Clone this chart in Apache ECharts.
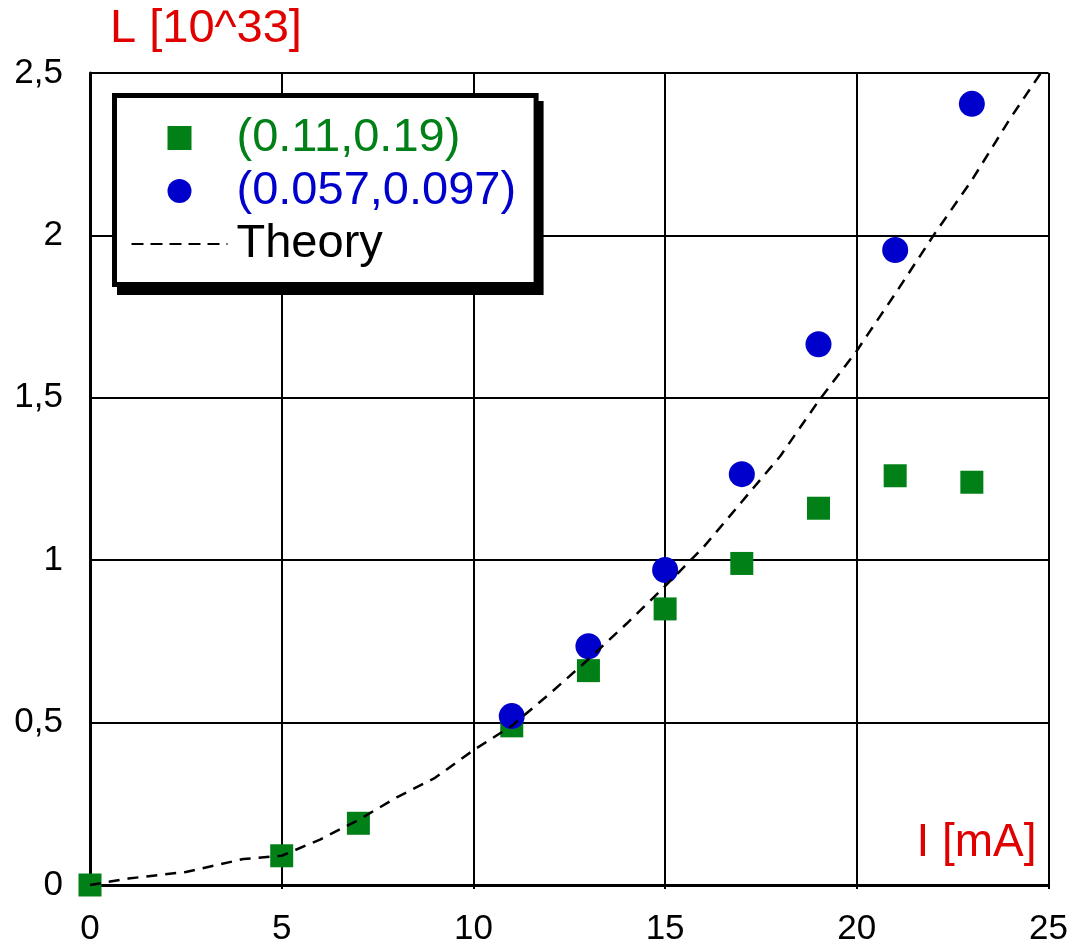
<!DOCTYPE html>
<html>
<head>
<meta charset="utf-8">
<title>L vs I</title>
<script src="https://cdn.jsdelivr.net/npm/echarts@6/dist/echarts.min.js"></script>
<style>
  html, body { margin: 0; padding: 0; background: #fff; }
  #chart { width: 1071px; height: 947px; }
</style>
</head>
<body>
<div id="chart"></div>
<script>
// Measured luminosity L [10^33] against current I [mA]
const currentA = [0, 5, 7, 11, 13, 15, 17, 19, 21, 23];
const lumA = [0, 0.09, 0.19, 0.49, 0.66, 0.85, 0.99, 1.16, 1.26, 1.24];

const currentB = [11, 13, 15, 17, 19, 21, 23];
const lumB = [0.52, 0.735, 0.97, 1.265, 1.665, 1.955, 2.405];

// Theoretical curve
const theoryI = [0, 1, 2.5, 4, 5, 6, 7, 8, 9, 10, 11, 12, 13, 14, 15, 16, 17, 18, 19, 20, 21, 22, 23, 24, 24.8];
const theoryL = [0, 0.02, 0.04, 0.08, 0.09, 0.14, 0.2, 0.27, 0.33, 0.415, 0.49, 0.59, 0.695, 0.805, 0.92, 1.04, 1.18, 1.32, 1.49, 1.645, 1.82, 2.0, 2.17, 2.36, 2.5];

const seriesNames = ['(0.11,0.19)', '(0.057,0.097)', 'Theory'];
const xTicks = { min: 0, max: 25, step: 5 };
const yTicks = { min: 0, max: 2.5, step: 0.5 };

const FONT = 'Liberation Sans, Arial, Helvetica, sans-serif';
const GREEN = '#008017';
const BLUE = '#0000cc';
const RED = '#e00000';

// Square legend marker as a path so it keeps its aspect inside the wide icon slot
const SQUARE_ICON = 'path://M0,0h10v10h-10z';

const zip = (xs, ys) => xs.map((x, i) => [x, ys[i]]);

// Shared legend layout; the second copy sits behind, offset, as a drop shadow.
const legendBase = {
  orient: 'vertical',
  padding: [16, 20, 14, 16],
  itemWidth: 96, itemHeight: 24, itemGap: 0,
  symbolKeepAspect: true,
  borderWidth: 5, borderRadius: 0,
  textStyle: { fontSize: 47, fontFamily: FONT, lineHeight: 53, padding: [0, 0, 0, 4] }
};

const chart = echarts.init(document.getElementById('chart'), null, { renderer: 'canvas' });

chart.setOption({
  animation: false,
  backgroundColor: '#fff',
  grid: { left: 90, right: 19, top: 73, bottom: 60, containLabel: false },
  xAxis: {
    type: 'value',
    min: xTicks.min, max: xTicks.max, interval: xTicks.step,
    name: 'I [mA]',
    nameLocation: 'end',
    nameGap: -12,
    nameTextStyle: {
      color: RED, fontSize: 46, fontFamily: FONT,
      align: 'right', verticalAlign: 'bottom', padding: [0, 0, 19, 0]
    },
    axisLine: { show: true, onZero: false, lineStyle: { color: '#000', width: 3 } },
    axisTick: { show: true, length: 4, inside: false, lineStyle: { color: '#000', width: 2 } },
    axisLabel: { color: '#000', fontSize: 35, fontFamily: FONT, margin: 27 },
    splitLine: { show: true, lineStyle: { color: '#000', width: 2 } }
  },
  yAxis: {
    type: 'value',
    min: yTicks.min, max: yTicks.max, interval: yTicks.step,
    name: 'L [10^33]',
    nameLocation: 'end',
    nameGap: 20,
    nameTextStyle: {
      color: RED, fontSize: 47, fontFamily: FONT,
      align: 'left', padding: [0, 0, 0, 20]
    },
    axisLine: { show: true, onZero: false, lineStyle: { color: '#000', width: 3 } },
    axisTick: { show: false },
    axisLabel: {
      color: '#000', fontSize: 35, fontFamily: FONT, margin: 27,
      formatter: v => String(v).replace('.', ',')
    },
    splitLine: { show: true, lineStyle: { color: '#000', width: 2 } }
  },
  legend: [
    Object.assign({}, legendBase, {
      id: 'main',
      left: 114.5, top: 95.5, z: 10,
      backgroundColor: '#fff', borderColor: '#000',
      data: [
        { name: seriesNames[0], icon: SQUARE_ICON, textStyle: { color: GREEN } },
        { name: seriesNames[1], icon: 'circle', textStyle: { color: BLUE } },
        {
          name: seriesNames[2], textStyle: { color: '#000' },
          itemStyle: { opacity: 0 },
          lineStyle: { width: 2, type: [12, 7] }
        }
      ]
    }),
    Object.assign({}, legendBase, {
      id: 'shadow',
      left: 119.5, top: 103.5, z: 9,
      backgroundColor: '#000', borderColor: '#000',
      selectedMode: false,
      itemStyle: { opacity: 0 },
      lineStyle: { opacity: 0 },
      textStyle: Object.assign({}, legendBase.textStyle, { color: 'rgba(0,0,0,0)' }),
      data: [
        { name: seriesNames[0], icon: SQUARE_ICON },
        { name: seriesNames[1], icon: 'circle' },
        { name: seriesNames[2] }
      ]
    })
  ],
  series: [
    {
      name: seriesNames[0],
      type: 'scatter',
      symbol: 'rect',
      symbolSize: 23,
      itemStyle: { color: GREEN, opacity: 1 },
      data: zip(currentA, lumA)
    },
    {
      name: seriesNames[1],
      type: 'scatter',
      symbol: 'circle',
      symbolSize: 26,
      itemStyle: { color: BLUE, opacity: 1 },
      data: zip(currentB, lumB)
    },
    {
      name: seriesNames[2],
      type: 'line',
      symbol: 'none',
      showSymbol: false,
      lineStyle: { color: '#000', width: 2.5, type: [11, 8] },
      itemStyle: { color: '#000' },
      data: zip(theoryI, theoryL)
    }
  ]
});
</script>
</body>
</html>
